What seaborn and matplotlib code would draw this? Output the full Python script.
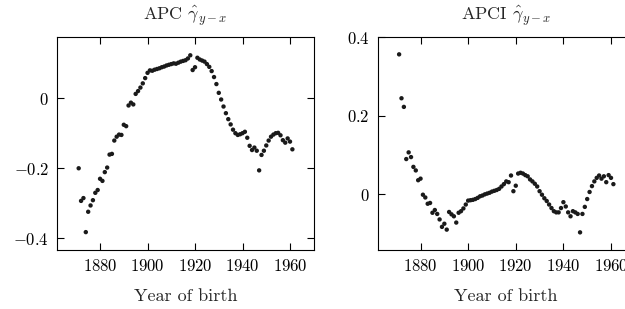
import matplotlib
matplotlib.use('Agg')
import matplotlib.pyplot as plt
import matplotlib.ticker as mticker
import pandas as pd
import seaborn as sns

# Birth cohorts 1871-1961, one estimate per cohort
years = list(range(1871, 1962))

apc = [
    -0.200, -0.293, -0.285, -0.382, -0.324, -0.306, -0.291, -0.270, -0.262,
    -0.230, -0.236, -0.211, -0.198, -0.161, -0.159, -0.121, -0.110, -0.104, -0.105,
    -0.076, -0.080, -0.021, -0.013, -0.018, 0.012, 0.020, 0.030, 0.042, 0.057,
    0.072, 0.079, 0.078, 0.081, 0.083, 0.085, 0.088, 0.090, 0.093, 0.095,
    0.097, 0.099, 0.098, 0.101, 0.104, 0.106, 0.108, 0.113, 0.122, 0.080,
    0.088, 0.115, 0.110, 0.107, 0.104, 0.097, 0.089, 0.077, 0.060, 0.040,
    0.015, -0.004, -0.024, -0.043, -0.060, -0.075, -0.090, -0.100, -0.105, -0.103,
    -0.100, -0.096, -0.113, -0.136, -0.148, -0.141, -0.150, -0.206, -0.162, -0.150,
    -0.135, -0.121, -0.110, -0.104, -0.100, -0.099, -0.106, -0.120, -0.127, -0.115,
    -0.124, -0.146,
]

apci = [
    0.357, 0.245, 0.223, 0.090, 0.107, 0.095, 0.070, 0.061, 0.036,
    0.040, -0.001, -0.008, -0.024, -0.022, -0.047, -0.040, -0.050, -0.064, -0.083,
    -0.075, -0.090, -0.045, -0.051, -0.056, -0.072, -0.047, -0.043, -0.036, -0.026,
    -0.016, -0.015, -0.014, -0.012, -0.009, -0.005, -0.003, 0.000, 0.002, 0.004,
    0.007, 0.009, 0.011, 0.014, 0.020, 0.026, 0.033, 0.031, 0.048, 0.008,
    0.022, 0.053, 0.055, 0.053, 0.049, 0.046, 0.038, 0.033, 0.027, 0.020,
    0.008, -0.001, -0.010, -0.017, -0.026, -0.035, -0.043, -0.046, -0.046, -0.035,
    -0.020, -0.031, -0.046, -0.056, -0.043, -0.046, -0.050, -0.097, -0.050, -0.032,
    -0.012, 0.006, 0.021, 0.033, 0.042, 0.048, 0.040, 0.046, 0.031, 0.049,
    0.042, 0.026,
]

df = pd.DataFrame({'year': years, 'apc': apc, 'apci': apci})

sns.set_theme(style='ticks')
plt.rcParams.update({
    'font.family': ['cmr10', 'DejaVu Serif'],
    'mathtext.fontset': 'cm',
    'axes.formatter.use_mathtext': True,
    'axes.edgecolor': 'black',
    'axes.linewidth': 0.8,
    'font.size': 12,
})


def math_fmt(v, pos):
    v = round(v, 6) + 0.0
    return f'${v:g}$'


fig = plt.figure(figsize=(6.25, 3.09), dpi=100)
ax1 = fig.add_axes([0.0917, 0.1909, 0.4103, 0.6903])
ax2 = fig.add_axes([0.6043, 0.1909, 0.4114, 0.6903])

panels = [
    (ax1, 'apc', r'APC $\hat{\gamma}_{y-x}$', (-0.433, 0.175)),
    (ax2, 'apci', r'APCI $\hat{\gamma}_{y-x}$', (-0.142, 0.402)),
]

for ax, col, title, ylim in panels:
    sns.scatterplot(data=df, x='year', y=col, ax=ax, s=10, color='#1a1a1a',
                    edgecolor='none', linewidth=0)
    ax.set_xlim(1862, 1970)
    ax.set_ylim(*ylim)
    ax.xaxis.set_major_locator(mticker.MultipleLocator(20))
    ax.yaxis.set_major_locator(mticker.MultipleLocator(0.2))
    ax.xaxis.set_major_formatter(mticker.FuncFormatter(math_fmt))
    ax.yaxis.set_major_formatter(mticker.FuncFormatter(math_fmt))
    ax.tick_params(direction='in', top=True, right=True, length=5, width=0.8,
                   labelsize=12, colors='black', pad=6)
    ax.set_title(title, fontsize=13, pad=12)
    ax.set_xlabel('Year of birth', fontsize=13, labelpad=10)
    ax.set_ylabel('')
    for s in ax.spines.values():
        s.set_visible(True)
        s.set_color('black')

fig.savefig('out.png', dpi=100)
